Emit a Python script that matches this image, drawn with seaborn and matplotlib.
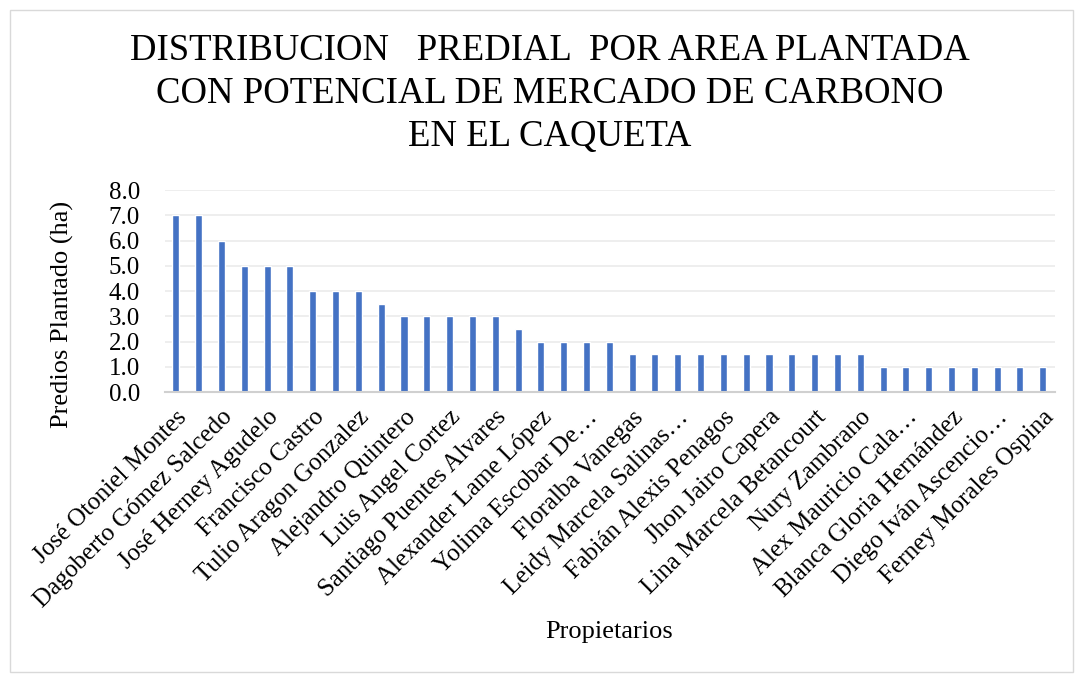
import matplotlib
matplotlib.use("Agg")
import matplotlib.pyplot as plt
import seaborn as sns
import pandas as pd
from matplotlib.patches import Rectangle

# ---- data ----
values = [7, 7, 6, 5, 5, 5, 4, 4, 4, 3.5, 3, 3, 3, 3, 3, 2.5, 2, 2, 2, 2,
          1.5, 1.5, 1.5, 1.5, 1.5, 1.5, 1.5, 1.5, 1.5, 1.5, 1.5,
          1, 1, 1, 1, 1, 1, 1, 1]
tick_labels = ["José Otoniel Montes", "Dagoberto Gómez Salcedo", "José Herney Agudelo",
               "Francisco Castro", "Tulio Aragon Gonzalez", "Alejandro Quintero",
               "Luis Angel Cortez", "Santiago Puentes Alvares", "Alexander Lame López",
               "Yolima Escobar De…", "Floralba Vanegas", "Leidy Marcela Salinas…",
               "Fabián Alexis Penagos", "Jhon Jairo Capera", "Lina Marcela Betancourt",
               "Nury Zambrano", "Alex Mauricio Cala…", "Blanca Gloria Hernández",
               "Diego Iván Ascencio…", "Ferney Morales Ospina"]
categories = [f"P{i+1:02d}" for i in range(len(values))]
yticks = [0, 1, 2, 3, 4, 5, 6, 7, 8]

df = pd.DataFrame({"cat": categories, "val": values})

sns.set_theme(style="white")
plt.rcParams['font.family'] = ['Liberation Serif', 'DejaVu Serif']
plt.rcParams['text.color'] = 'black'
plt.rcParams['xtick.color'] = 'black'
plt.rcParams['ytick.color'] = 'black'

fig = plt.figure(figsize=(10.76, 6.74), dpi=100)
ax = fig.add_axes([0.1533, 0.418, 0.827, 0.300])

sns.barplot(data=df, x="cat", y="val", color="#4472C4", width=0.31,
            saturation=1, ax=ax)

ax.set_ylim(0, 8)
ax.set_yticks(yticks)
ax.set_yticklabels([f"{v:.1f}" for v in yticks], fontsize=18)
ax.set_xlim(-0.48, 38.53)
ax.set_xticks(range(0, len(values), 2))
ax.set_xticklabels(tick_labels, rotation=45, ha="right", rotation_mode="anchor",
                   fontsize=18)
ax.tick_params(axis="both", length=0, labelcolor="black")
ax.tick_params(axis="x", pad=10)
ax.tick_params(axis="y", pad=18)
ax.yaxis.grid(True, color="#EBEBEB", linewidth=1.2)
ax.set_axisbelow(True)
for s in ["top", "right", "left"]:
    ax.spines[s].set_visible(False)
ax.spines["bottom"].set_color("#D0D0D0")
ax.spines["bottom"].set_linewidth(1.5)

ax.set_xlabel("")
ax.set_ylabel("")
fig.text(0.058, 0.534, "Predios Plantado (ha)", ha="center", va="center",
         rotation=90, fontsize=19, color="black")
fig.text(0.566, 0.062, "Propietarios", ha="center", va="center", fontsize=19,
         color="black")

fig.text(0.511, 0.861,
         "DISTRIBUCION   PREDIAL  POR AREA PLANTADA\nCON POTENCIAL DE MERCADO DE CARBONO\nEN EL CAQUETA",
         ha="center", va="center", fontsize=26.5, linespacing=1.32, color="black")

fig.patches.append(Rectangle((0.009, 0.003), 0.988, 0.982, transform=fig.transFigure,
                             fill=False, edgecolor="#D9D9D9", linewidth=1))

fig.savefig("out.png", dpi=100, facecolor="white")
